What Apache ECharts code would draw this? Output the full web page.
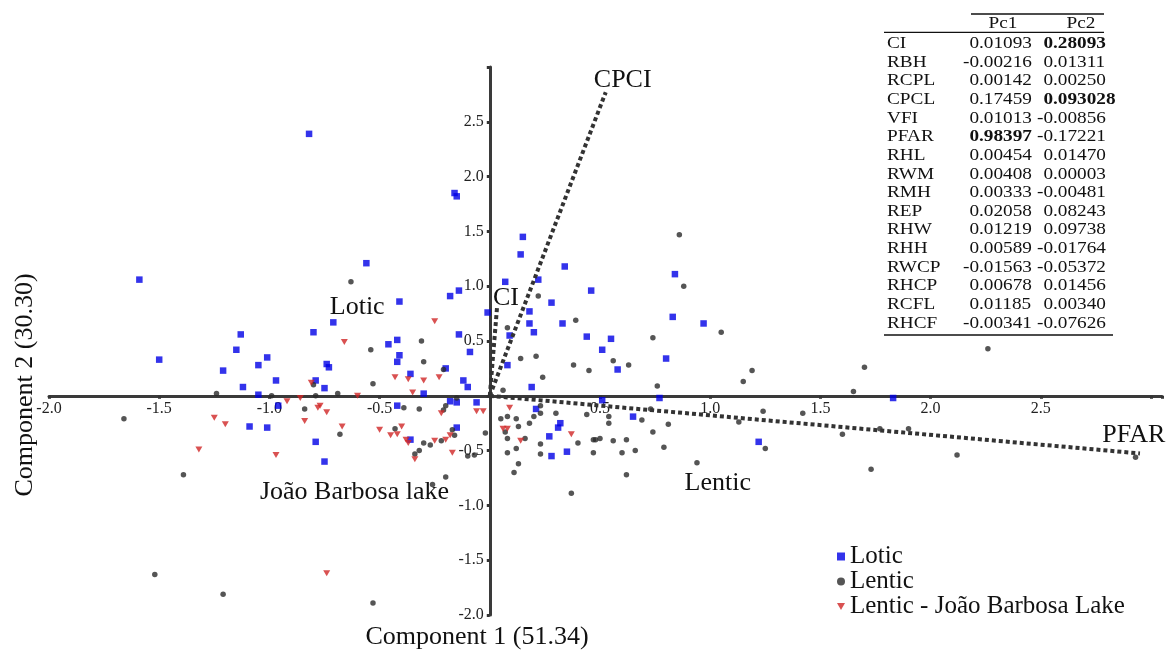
<!DOCTYPE html>
<html>
<head>
<meta charset="utf-8">
<script src="https://cdn.jsdelivr.net/npm/echarts@6.0.0/dist/echarts.min.js"></script>
<style>
  html, body { margin: 0; padding: 0; background: #fff; }
  #main { width: 1168px; height: 652px; }
</style>
</head>
<body>
<div id="main"></div>
<script>
  // PCA scores: [Component 1, Component 2]
  var loticPoints = [
    [-0.82, 2.39], [-1.59, 1.06], [-0.56, 1.21], [-0.41, 0.86], [-0.18, 0.91], [-0.14, 0.96],
    [-0.16, 1.85], [-0.15, 1.82], [-0.01, 0.76], [-0.71, 0.67], [-0.80, 0.58], [-0.46, 0.47],
    [-0.42, 0.51], [-0.41, 0.37], [-0.42, 0.31], [-0.14, 0.56], [-0.09, 0.40], [-1.13, 0.56],
    [-1.15, 0.42], [-1.50, 0.33], [-1.01, 0.35], [-1.21, 0.23], [-1.05, 0.28], [-1.12, 0.08],
    [-0.97, 0.14], [-1.05, 0.01], [-0.96, -0.09], [-1.09, -0.28], [-1.01, -0.29], [-0.79, 0.14],
    [-0.75, 0.07], [-0.74, 0.29], [-0.73, 0.26], [-0.79, -0.42], [-0.75, -0.60], [-0.42, -0.09],
    [-0.36, 0.20], [-0.30, 0.02], [-0.36, -0.40], [-0.15, -0.29], [-0.06, -0.06], [-0.18, -0.05],
    [-0.15, -0.06], [-0.20, 0.25], [-0.12, 0.14], [-0.10, 0.08],
    [0.15, 1.45], [0.14, 1.29], [0.34, 1.18], [0.07, 1.04], [0.22, 1.06], [0.46, 0.96],
    [0.28, 0.85], [0.18, 0.77], [0.18, 0.66], [0.33, 0.66], [0.20, 0.58], [0.09, 0.55],
    [0.44, 0.54], [0.55, 0.52], [0.51, 0.42], [0.08, 0.28], [0.58, 0.24], [0.19, 0.08],
    [0.51, -0.04], [0.77, -0.02], [0.21, -0.12], [0.65, -0.19], [0.32, -0.25], [0.31, -0.29],
    [0.27, -0.37], [0.35, -0.51], [0.28, -0.55], [0.84, 1.11], [0.83, 0.72], [0.97, 0.66],
    [0.80, 0.34], [1.22, -0.42], [1.83, -0.02]
  ];

  var lenticPoints = [
    [-0.63, 1.04], [-0.54, 0.42], [-0.31, 0.50], [-1.24, 0.02], [-0.99, 0.00], [-1.66, -0.21],
    [-1.39, -0.72], [-0.84, -0.12], [-0.80, 0.10], [-0.79, 0.00], [-1.52, -1.63], [-1.21, -1.81],
    [-0.53, -1.89], [-0.69, 0.02], [-0.68, -0.35], [-0.53, 0.11], [-0.43, -0.30], [-0.39, -0.11],
    [-0.32, -0.12], [-0.30, 0.31], [-0.34, -0.53], [-0.32, -0.50], [-0.30, -0.43], [-0.27, -0.45],
    [-0.22, -0.41], [-0.17, -0.31], [-0.16, -0.36], [-0.20, -0.74], [-0.26, -0.81], [-0.10, -0.55],
    [-0.07, -0.54], [-0.02, -0.34], [-0.20, -0.09], [-0.21, -0.13], [-0.15, -0.02], [-0.21, 0.24],
    [0.22, 0.91], [0.39, 0.69], [0.08, 0.62], [0.74, 0.53], [0.14, 0.34], [0.21, 0.36],
    [0.56, 0.32], [0.38, 0.28], [0.45, 0.23], [0.63, 0.28], [0.24, 0.17], [0.06, 0.05],
    [0.76, 0.09], [0.23, -0.09], [0.30, -0.16], [0.73, -0.12], [0.23, -0.16], [0.44, -0.17],
    [0.54, -0.19], [0.54, -0.25], [0.69, -0.22], [0.74, -0.33], [0.05, -0.21], [0.08, -0.19],
    [0.12, -0.21], [0.20, -0.19], [0.18, -0.25], [0.13, -0.28], [0.07, -0.33], [0.08, -0.39],
    [0.16, -0.39], [0.23, -0.44], [0.40, -0.43], [0.47, -0.40], [0.48, -0.40], [0.50, -0.39],
    [0.56, -0.41], [0.62, -0.40], [0.12, -0.48], [0.08, -0.52], [0.23, -0.53], [0.47, -0.52],
    [0.60, -0.52], [0.66, -0.50], [0.13, -0.62], [0.11, -0.70], [0.62, -0.72], [0.37, -0.89],
    [0.86, 1.47], [0.88, 1.00], [1.05, 0.58], [1.19, 0.23], [1.15, 0.13], [1.70, 0.26],
    [1.65, 0.04], [0.81, -0.26], [0.79, -0.47], [0.94, -0.61], [1.13, -0.24], [1.24, -0.14],
    [1.25, -0.48], [1.42, -0.16], [1.60, -0.35], [1.73, -0.67], [2.26, 0.43], [1.77, -0.30],
    [1.90, -0.30], [2.12, -0.54], [2.93, -0.56]
  ];

  var lakePoints = [
    [-0.25, 0.68], [-0.66, 0.49], [-1.25, -0.20], [-1.20, -0.26], [-1.32, -0.49], [-0.97, -0.54],
    [-0.92, -0.05], [-0.86, -0.02], [-0.84, -0.23], [-0.81, 0.12], [-0.78, -0.11], [-0.77, -0.09],
    [-0.74, -0.15], [-0.74, -1.62], [-0.67, -0.28], [-0.60, 0.00], [-0.50, -0.31], [-0.45, -0.36],
    [-0.42, -0.35], [-0.40, -0.28], [-0.43, 0.17], [-0.37, 0.15], [-0.35, 0.03], [-0.30, 0.14],
    [-0.38, -0.40], [-0.37, -0.43], [-0.34, -0.58], [-0.25, -0.41], [-0.20, -0.40], [-0.18, -0.36],
    [-0.17, -0.52], [-0.06, -0.14], [-0.03, -0.14], [-0.22, -0.16], [-0.23, 0.17], [0.09, -0.11],
    [0.06, -0.30], [0.08, -0.30], [0.14, -0.41], [0.37, -0.35]
  ];

  // loading vectors drawn from the origin
  var vectorNames = ['CI', 'CPCI', 'PFAR'];
  var vectorEnds = [[0.033, 0.81], [0.526, 2.77], [2.95, -0.526]];

  // text annotations placed in data space
  var noteTexts = ['Lotic', 'CI', 'CPCI', 'João Barbosa lake', 'Lentic', 'PFAR'];
  var noteX = [-0.726, 0.014, 0.472, -1.043, 0.884, 2.779];
  var noteY = [0.81, 0.89, 2.88, -0.88, -0.80, -0.36];

  // loadings table
  var tableVars = ['CI', 'RBH', 'RCPL', 'CPCL', 'VFI', 'PFAR', 'RHL', 'RWM', 'RMH', 'REP',
    'RHW', 'RHH', 'RWCP', 'RHCP', 'RCFL', 'RHCF'];
  var pc1Values = ['0.01093', '-0.00216', '0.00142', '0.17459', '0.01013', '0.98397', '0.00454',
    '0.00408', '0.00333', '0.02058', '0.01219', '0.00589', '-0.01563', '0.00678', '0.01185', '-0.00341'];
  var pc2Values = ['0.28093', '0.01311', '0.00250', '0.093028', '-0.00856', '-0.17221', '0.01470',
    '0.00003', '-0.00481', '0.08243', '0.09738', '-0.01764', '-0.05372', '0.01456', '0.00340', '-0.07626'];
  var pc1Bold = ['PFAR'];
  var pc2Bold = ['CI', 'CPCL'];

  var seriesNames = ['Lotic', 'Lentic', 'Lentic - João Barbosa Lake'];

  var FONT = 'Liberation Serif';
  var chart = echarts.init(document.getElementById('main'));

  function tickFormat(v) {
    if (Math.abs(v) < 1e-9 || v > 2.6) return '';
    return v.toFixed(1);
  }

  var series = [
    {
      name: seriesNames[0], type: 'scatter', data: loticPoints,
      symbol: 'rect', symbolSize: 6.5,
      itemStyle: { color: '#0000e6' }
    },
    {
      name: seriesNames[1], type: 'scatter', data: lenticPoints,
      symbol: 'circle', symbolSize: 5.5,
      itemStyle: { color: '#2b2b2b' }
    },
    {
      name: seriesNames[2], type: 'scatter', data: lakePoints,
      symbol: 'path://M0,0 L10,0 L5,9 Z', symbolSize: [7, 6],
      itemStyle: { color: '#d02626' }
    }
  ];

  vectorNames.forEach(function (n, i) {
    series.push({
      name: n, type: 'line', data: [[0, 0], vectorEnds[i]],
      symbol: 'none', silent: true, z: 3,
      lineStyle: { color: '#333', width: 4, type: [4, 3], cap: 'butt' }
    });
  });

  var axisCommon = {
    type: 'value', interval: 0.5, min: -2,
    splitLine: { show: false },
    axisLine: { onZero: false, lineStyle: { color: '#3a3a3a', width: 3 } },
    axisTick: { show: true, length: 3, lineStyle: { color: '#333', width: 3 } }
  };

  var option = {
    animation: false,
    backgroundColor: '#fff',
    grid: { left: 49, right: 6, top: 67, bottom: 37 },
    xAxis: Object.assign({}, axisCommon, {
      max: 3.05, position: 'bottom',
      axisLabel: { formatter: tickFormat, margin: 5, fontFamily: FONT, fontSize: 16, color: '#222' }
    }),
    yAxis: Object.assign({}, axisCommon, {
      max: 3, position: 'left',
      axisLabel: { formatter: tickFormat, margin: 6, fontFamily: FONT, fontSize: 16, color: '#222' }
    }),
    legend: {
      data: seriesNames,
      orient: 'vertical', left: 832, top: 539,
      itemWidth: 8, itemHeight: 8, itemGap: 0,
      textStyle: { fontFamily: FONT, fontSize: 25, color: '#111', lineHeight: 25 }
    },
    series: series
  };

  chart.setOption(option);

  // move both axes (line, ticks and labels) so they cross at the origin
  var origin = chart.convertToPixel({ gridIndex: 0 }, [0, 0]);
  var corner = chart.convertToPixel({ gridIndex: 0 }, [-2, -2]);
  chart.setOption({
    xAxis: { offset: -(corner[1] - origin[1]) },
    yAxis: { offset: -(origin[0] - corner[0]) }
  });

  // annotations, axis titles and the loadings table
  var graphics = [];
  noteTexts.forEach(function (t, i) {
    var p = chart.convertToPixel({ gridIndex: 0 }, [noteX[i], noteY[i]]);
    graphics.push({
      type: 'text', x: p[0], y: p[1], z: 10,
      style: { text: t, fontFamily: FONT, fontSize: 26, fill: '#111', textAlign: 'left', textVerticalAlign: 'middle' }
    });
  });

  graphics.push({
    type: 'text', x: 477, y: 637,
    style: { text: 'Component 1 (51.34)', fontFamily: FONT, fontSize: 26, fill: '#111', textAlign: 'center', textVerticalAlign: 'middle' }
  });
  graphics.push({
    type: 'text', x: 25, y: 385, rotation: Math.PI / 2,
    style: { text: 'Component 2 (30.30)', fontFamily: FONT, fontSize: 26, fill: '#111', textAlign: 'center', textVerticalAlign: 'middle' }
  });

  var TS = 17.5, SX = 1.1;
  var rowTop = 43.5, rowStep = 18.63;
  var pc1Dec = 979, pc2Dec = 1053;

  function cellText(x, y, text, align, bold) {
    return {
      type: 'text', x: x, y: y, scaleX: SX,
      style: { text: text, fontFamily: FONT, fontSize: TS, fontWeight: bold ? 'bold' : 'normal',
        fill: '#111', textAlign: align, textVerticalAlign: 'middle' }
    };
  }
  function decimalCell(xDec, y, s, bold) {
    var k = s.indexOf('.');
    graphics.push(cellText(xDec, y, s.slice(0, k), 'right', bold));
    graphics.push(cellText(xDec, y, s.slice(k), 'left', bold));
  }

  graphics.push(cellText(1003, 23, 'Pc1', 'center', false));
  graphics.push(cellText(1081, 23, 'Pc2', 'center', false));
  tableVars.forEach(function (v, i) {
    var y = rowTop + i * rowStep;
    graphics.push(cellText(887, y, v, 'left', false));
    decimalCell(pc1Dec, y, pc1Values[i], pc1Bold.indexOf(v) >= 0);
    decimalCell(pc2Dec, y, pc2Values[i], pc2Bold.indexOf(v) >= 0);
  });
  [[971, 14, 1104], [884, 32.3, 1104], [884, 335, 1113]].forEach(function (l) {
    graphics.push({
      type: 'line', shape: { x1: l[0], y1: l[1], x2: l[2], y2: l[1] },
      style: { stroke: '#111', lineWidth: 1.3 }
    });
  });

  chart.setOption({ graphic: graphics });
</script>
</body>
</html>
